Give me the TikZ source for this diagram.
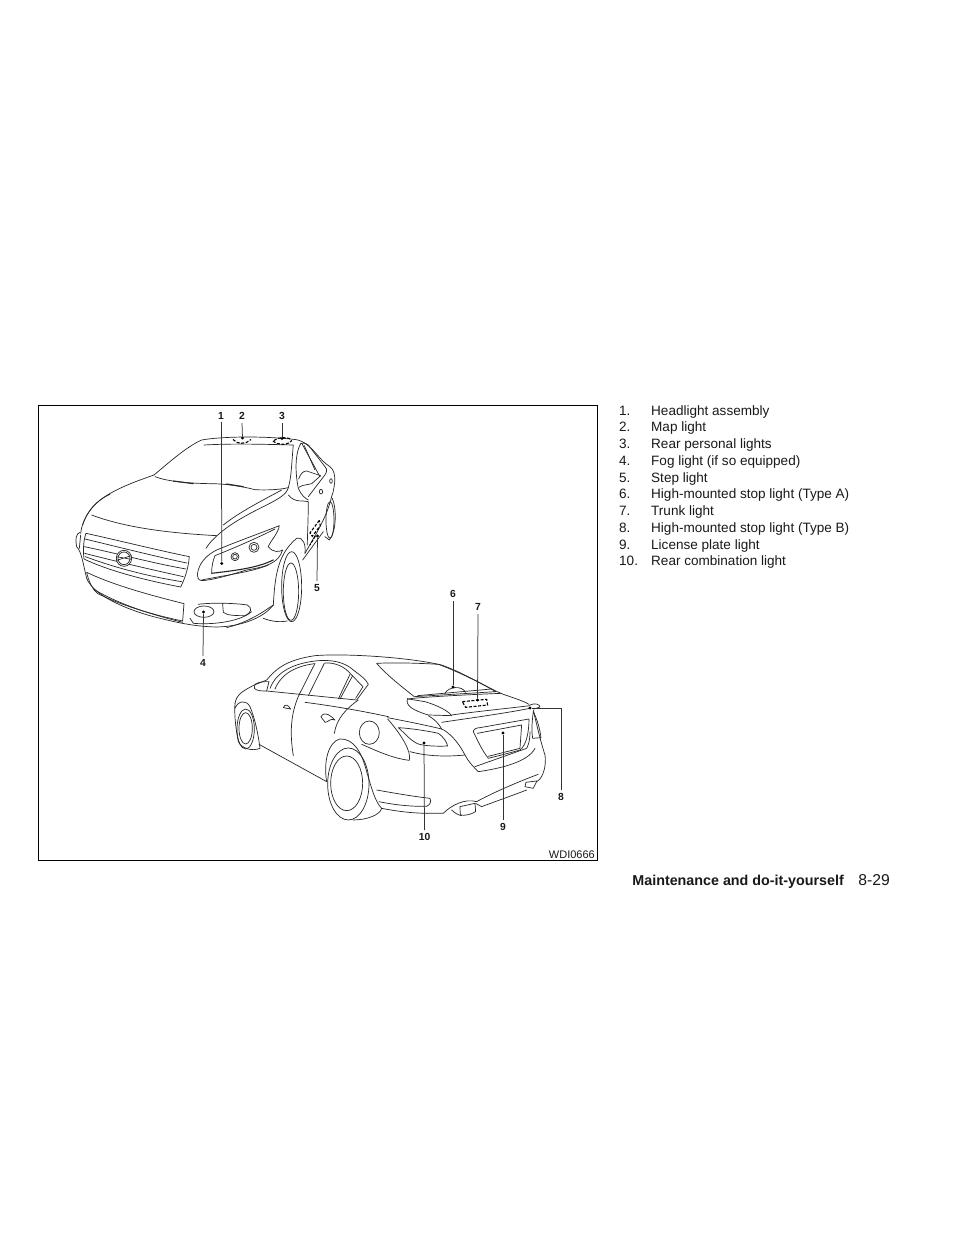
\documentclass[tikz,border=0pt]{standalone}
\usepackage{fontspec}
\setmainfont{Liberation Sans}
\tikzset{
 car/.style={draw=black!85,line width=0.7pt,line cap=round,line join=round},
 dashbox/.style={draw=black,line width=1.1pt,dash pattern=on 3pt off 1.6pt},
 leader/.style={draw=black!80,line width=0.75pt},
 callout/.style={font=\fontsize{10.3}{12}\selectfont\bfseries,inner sep=0pt,text=black!90},
 tip/.style={circle,fill=black,inner sep=0pt,minimum size=3.2pt},
 item/.style={font=\fontsize{13.55}{15}\selectfont,inner sep=0pt,anchor=base west,text=black!90},
 frontcar/.style={shift={(60,405)},x=0.3333pt,y=-0.3333pt},
 rearcar/.style={shift={(225,585)},x=0.3333pt,y=-0.3333pt}
}
\begin{document}
\begin{tikzpicture}[x=1pt,y=-1pt]
\useasboundingbox (0,0) rectangle (954,1235);
\fill[white] (0,0) rectangle (954,1235);
\draw[black,line width=0.9pt] (38,405.5) rectangle (597.5,860.5);

% ---------- front car
\begin{scope}[frontcar]
% roof + rear outline
\draw[car] (282,210) .. controls (330,170) and (380,125) .. (425,105) .. controls (480,95) and (600,92) .. (700,103) .. controls (750,105) and (775,165) .. (810,185) .. controls (822,195) and (826,210) .. (824,232) .. controls (822,250) and (820,262) .. (815,275);
\draw[car] (432,120) .. controls (520,115) and (620,118) .. (700,120) .. controls (695,170) and (695,215) .. (685,248);
% windshield base
\draw[car] (285,215) .. controls (330,232) and (400,235) .. (450,236) .. controls (500,236) and (550,245) .. (585,254) .. controls (620,256) and (660,254) .. (685,248);
\draw[car,line width=1.1pt] (340,228) -- (400,236) (500,237) -- (550,245);
% side window
\draw[car] (722,116) .. controls (708,140) and (703,190) .. (715,250) .. controls (722,268) and (735,280) .. (745,285);
\draw[car] (745,275) -- (787,220) .. controls (800,205) and (805,195) .. (795,185) -- (745,120) .. controls (738,113) and (730,112) .. (722,116);
\draw[car] (727,118) -- (780,215);
\draw[car] (733,122) -- (765,195);
% mirror
\draw[car] (716,222) .. controls (722,205) and (730,198) .. (740,198) -- (782,212) -- (755,236) .. controls (740,240) and (725,240) .. (717,247);
% hood edges
\draw[car] (282,210) .. controls (210,235) and (130,265) .. (95,310) .. controls (75,335) and (65,360) .. (62,385);
\draw[car] (150,268) .. controls (110,285) and (80,320) .. (68,360);
\draw[car] (95,330) .. controls (200,370) and (340,385) .. (470,392);
\draw[car] (685,248) .. controls (680,270) and (650,285) .. (600,310) .. controls (540,340) and (470,380) .. (438,430);
\draw[car] (665,255) .. controls (610,285) and (540,320) .. (490,360);
% door / fender
\draw[car] (685,270) .. controls (705,295) and (730,285) .. (745,290) .. controls (745,340) and (742,400) .. (742,420);
\draw[car] (735,445) .. controls (760,400) and (800,340) .. (815,275);
\draw[car] (728,465) -- (790,380);
\draw[car] (783,260) ellipse [x radius=5,y radius=7];
\draw[car] (813,228) ellipse [x radius=4,y radius=7];
% rear wheel on far side
\draw[car] (810,345) ellipse [x radius=12,y radius=55];
\draw[car] (817,280) .. controls (830,310) and (830,380) .. (808,405) -- (795,395);
% step light marks
\draw[dashbox] (778,346) -- (750,384) -- (757,394) -- (781,362) -- cycle;
\draw[dashbox] (766,393) -- (750,420);
% bumper outline
\draw[car] (60,382) .. controls (48,385) and (45,405) .. (50,425) .. controls (65,440) and (70,480) .. (80,520) .. controls (100,570) and (190,610) .. (280,635) .. controls (340,650) and (400,665) .. (470,666) .. controls (540,665) and (610,640) .. (640,600);
\draw[car] (62,390) -- (58,430);
% grille
\draw[car] (78,385) .. controls (170,405) and (290,435) .. (388,455) .. controls (385,490) and (375,520) .. (362,546) .. controls (250,525) and (140,495) .. (72,462) .. controls (68,430) and (72,400) .. (78,385) -- cycle;
\draw[car] (75,402) .. controls (170,425) and (290,455) .. (380,474);
\draw[car] (73,425) .. controls (170,445) and (280,475) .. (378,492);
\draw[car] (74,445) .. controls (170,470) and (280,495) .. (370,515);
\draw[car] (76,455) .. controls (170,490) and (270,515) .. (365,530);
\draw[car,fill=white] (192,460) ellipse [x radius=23,y radius=24];
\draw[car] (192,460) ellipse [x radius=18,y radius=19];
\draw[car] (170,455) -- (214,463) (170,466) -- (214,452);
% lower grille
\draw[car] (80,502) .. controls (170,545) and (290,575) .. (372,596) -- (368,648) .. controls (280,630) and (180,600) .. (112,565) .. controls (95,550) and (85,525) .. (80,502) -- cycle;
\draw[car] (100,552) .. controls (180,600) and (280,630) .. (368,652);
% headlight
\draw[car] (412,510) .. controls (415,475) and (440,450) .. (470,435) .. controls (530,410) and (600,385) .. (658,362) .. controls (655,385) and (630,410) .. (625,425) .. controls (640,445) and (660,440) .. (668,435) .. controls (655,475) and (620,485) .. (560,495) .. controls (510,510) and (460,525) .. (425,527) .. controls (415,525) and (412,518) .. (412,510) -- cycle;
\draw[car] (455,505) .. controls (455,480) and (460,465) .. (465,452) .. controls (520,430) and (590,400) .. (645,372);
\draw[car,line width=1.1pt] (455,505) .. controls (520,497) and (590,490) .. (640,465);
\draw[car] (425,525) .. controls (500,510) and (580,500) .. (625,480);
\draw[car] (525,455) circle [radius=12];
\draw[car] (525,455) circle [radius=7];
\draw[car] (582,427) circle [radius=15];
\draw[car] (582,427) circle [radius=9];
% fog lamp + housing
\draw[car] (432,620) ellipse [x radius=30,y radius=17];
\draw[car] (415,598) .. controls (460,592) and (530,595) .. (562,600) .. controls (578,610) and (575,622) .. (555,632) .. controls (530,632) and (500,632) .. (490,622) -- (488,597);
\draw[car] (390,640) -- (400,655) .. controls (460,660) and (540,650) .. (575,620);
% front wheel
\draw[car] (640,600) .. controls (645,520) and (650,450) .. (710,400) .. controls (730,395) and (738,420) .. (735,445);
\draw[car] (693,560) ellipse [x radius=23,y radius=86];
\draw[car] (695,545) ellipse [x radius=30,y radius=105];
\draw[car] (610,640) .. controls (635,650) and (660,652) .. (682,648);
\draw[car] (640,600) .. controls (610,620) and (570,650) .. (500,668);
\end{scope}

% ---------- rear car
\begin{scope}[rearcar]
% roof line
\draw[car] (30,355) .. controls (35,325) and (60,315) .. (88,300) -- (125,285) .. controls (150,255) and (180,225) .. (270,212) .. controls (350,205) and (540,215) .. (650,240) .. controls (720,265) and (790,310) .. (835,328) .. controls (870,340) and (895,348) .. (912,358);
% windows
\draw[car] (135,310) .. controls (150,270) and (190,238) .. (270,228) .. controls (320,222) and (360,232) .. (385,255) .. controls (405,270) and (425,285) .. (430,298) -- (395,345) -- (125,318);
\draw[car] (150,312) .. controls (165,275) and (200,245) .. (268,236);
\draw[car] (300,234) .. controls (330,232) and (360,245) .. (378,268) -- (414,305) -- (392,340);
\draw[car] (270,235) -- (222,330) (298,235) -- (250,332) (383,272) -- (345,342) (375,268) -- (340,342);
% mirror
\draw[car] (90,298) .. controls (105,288) and (125,290) .. (132,290) -- (125,318) .. controls (110,318) and (95,318) .. (88,310) -- cycle;
% door lines
\draw[car] (222,330) .. controls (195,390) and (195,450) .. (205,512);
\draw[car] (400,345) .. controls (365,370) and (335,400) .. (328,445);
\draw[car] (240,352) .. controls (340,365) and (420,380) .. (490,395);
% handles
\draw[car] (175,368) .. controls (180,355) and (190,360) .. (197,372) -- (175,368) -- cycle;
\draw[car] (288,395) .. controls (300,375) and (320,395) .. (330,405) .. controls (315,398) and (310,412) .. (300,412) .. controls (295,402) and (290,402) .. (288,395) -- cycle;
% front wheel & arch
\draw[car] (30,355) .. controls (28,380) and (30,420) .. (40,470) .. controls (50,490) and (80,500) .. (105,490) .. controls (100,450) and (90,400) .. (75,365) .. controls (65,345) and (40,345) .. (30,370);
\draw[car] (62,430) ellipse [x radius=20,y radius=47];
\draw[car] (62,432) ellipse [x radius=26,y radius=60];
% sill
\draw[car] (102,478) -- (305,590);
% rear wheel
\draw[car] (365,595) ellipse [x radius=48,y radius=82];
\draw[car] (370,597) ellipse [x radius=62,y radius=108];
\draw[car] (305,590) .. controls (295,530) and (310,470) .. (345,462) .. controls (385,460) and (410,500) .. (425,560) .. controls (440,610) and (450,650) .. (470,670) .. controls (465,690) and (425,705) .. (385,705);
% fuel door
\draw[car] (433,443) ellipse [x radius=30,y radius=35];
% quarter panel
\draw[car] (410,478) .. controls (450,495) and (500,520) .. (553,526) .. controls (560,500) and (530,450) .. (488,402);
% tail light
\draw[car] (488,398) .. controls (540,408) and (600,420) .. (650,432) .. controls (670,440) and (700,470) .. (720,510) .. controls (730,530) and (745,545) .. (760,560);
\draw[car] (520,428) .. controls (560,430) and (620,440) .. (640,445) .. controls (655,455) and (665,470) .. (668,483) .. controls (630,485) and (590,482) .. (575,475) .. controls (555,465) and (540,445) .. (520,428) -- cycle;
\draw[car] (555,500) .. controls (610,515) and (670,515) .. (720,510);
% rear window
\draw[car] (455,235) .. controls (520,232) and (590,235) .. (640,238) .. controls (700,260) and (770,295) .. (812,320) -- (568,335) .. controls (530,305) and (485,270) .. (455,235) -- cycle;
\draw[car] (578,332) -- (800,312);
% stop light 6
\draw[car] (660,325) .. controls (670,305) and (710,300) .. (722,322);
% trunk lid
\draw[car] (550,342) .. controls (570,338) and (700,330) .. (830,325);
\draw[car] (548,340) .. controls (540,360) and (560,375) .. (610,390) -- (680,392) .. controls (670,378) and (640,362) .. (600,350) -- (550,342);
\draw[car] (610,392) .. controls (640,410) and (645,425) .. (650,432);
\draw[car] (680,390) .. controls (750,380) and (850,370) .. (915,362);
\draw[car] (650,412) .. controls (730,400) and (840,385) .. (915,370);
\draw[car] (915,360) .. controls (930,353) and (945,358) .. (945,366) -- (928,372);
% dashed box 7
\draw[dashbox] (712,350) -- (785,343) -- (788,360) -- (722,367) -- cycle;
% plate recess
\draw[car] (745,440) .. controls (745,430) and (760,428) .. (765,428) -- (912,402) .. controls (912,440) and (905,480) .. (885,495) .. controls (850,505) and (810,515) .. (790,520) .. controls (770,495) and (755,460) .. (745,440) -- cycle;
\draw[car] (757,445) -- (890,420) -- (885,490) -- (790,514);
% bumper right side
\draw[car] (925,375) .. controls (935,420) and (950,480) .. (960,510) .. controls (965,540) and (955,580) .. (935,590);
\draw[car] (925,380) .. controls (920,420) and (920,440) .. (923,460) -- (948,458) .. controls (945,430) and (935,400) .. (925,380);
\draw[car] (915,440) .. controls (915,470) and (910,480) .. (905,490) -- (750,545);
\draw[car] (760,560) .. controls (830,550) and (910,530) .. (930,490);
% diffuser & exhaust
\draw[car] (940,568) .. controls (880,590) and (800,625) .. (755,650) .. controls (720,640) and (680,660) .. (655,685) -- (608,685);
\draw[car] (935,590) -- (925,610) -- (900,605) -- (903,592) -- (935,588) -- cycle;
\draw[car] (905,615) .. controls (880,625) and (810,650) .. (770,665) -- (752,655);
\draw[car] (705,665) -- (750,655) -- (752,680) .. controls (735,690) and (720,692) .. (706,690) -- cycle;
\draw[car] (680,675) .. controls (690,685) and (700,690) .. (710,692);
% lower reflector
\draw[car] (455,615) .. controls (510,625) and (570,635) .. (615,640) .. controls (620,650) and (615,660) .. (605,664) .. controls (560,665) and (510,660) .. (462,650);
\draw[car] (470,670) .. controls (520,680) and (570,685) .. (608,685);
\end{scope}

% leader targets (tips) on the cars
\node[tip] (t1) at (221.7,563.5) {};
\node[tip] (t2) at (242.5,438) {};
\node[tip] (t3) at (282,438.5) {};
\node[tip] (t4) at (203.5,612) {};
\node[tip] (t5) at (317.5,536) {};
\node[tip] (t6) at (453,687) {};
\node[tip] (t7) at (477.5,700) {};
\node[tip] (t8) at (530,708) {};
\node[tip] (t9) at (503,733) {};
\node[tip] (t10) at (424,743) {};

% dashed lamps
\draw[dashbox] (233,439.5) .. controls (237,444.5) and (246,444.5) .. (251,439.5);
\draw[dashbox] (273,441) .. controls (278,445.5) and (288,445.5) .. (292,440.5);
\draw[dashbox] (274,440.5) .. controls (277,437) and (287,437) .. (291,439);

% callouts
\node[callout] (n1) at (221,416) {1};
\node[callout] (n2) at (242,416) {2};
\node[callout] (n3) at (282,416) {3};
\node[callout] (n4) at (203,663) {4};
\node[callout] (n5) at (317,588) {5};
\node[callout] (n6) at (453,594) {6};
\node[callout] (n7) at (478,607) {7};
\node[callout] (n8) at (561,796.5) {8};
\node[callout] (n9) at (503,827) {9};
\node[callout] (n10) at (424.5,837) {10};

\draw[leader] (n1.south) ++(0.5,2) coordinate (l1) -- (t1);
\draw[leader] (n2) ++(0,7) coordinate (l2) -- (t2);
\draw[leader] (n3) ++(0,7) coordinate (l3) -- (t3);
\draw[leader] (n4) ++(0,-7) coordinate (l4) -- (t4);
\draw[leader] (n5) ++(0,-7) coordinate (l5) -- (t5);
\draw[leader] (n6) ++(0,7) coordinate (l6) -- (t6);
\draw[leader] (n7) ++(0,7) coordinate (l7) -- (t7);
\draw[leader] (n8) ++(0,-7) coordinate (l8) |- (t8);
\draw[leader] (n9) ++(0,-7) coordinate (l9) -- (t9);
\draw[leader] (n10) ++(0,-7) coordinate (l10) -- (t10);

\node[inner sep=0pt,anchor=base east,font=\fontsize{11}{12}\selectfont,text=black!90] (code) at (595,858) {WDI0666};

% list
\foreach \k/\num/\txt/\yy in {a/1./Headlight assembly/415,b/2./Map light/431,c/3./Rear personal lights/448,d/4./Fog light (if so equipped)/465,e/5./Step light/482,f/6./High-mounted stop light (Type A)/498,g/7./Trunk light/515,h/8./High-mounted stop light (Type B)/532,i/9./License plate light/549,j/10./Rear combination light/565}{
 \node[item] (num\k) at (619,\yy) {\num};
 \node[item] (txt\k) at (651,\yy) {\txt};
}
% footer
\node[inner sep=0pt,anchor=base east,font=\fontsize{14.3}{15}\selectfont\bfseries,text=black!90] (foot) at (844,885) {Maintenance and do-it-yourself};
\node[inner sep=0pt,anchor=base east,font=\fontsize{15.7}{17}\selectfont,text=black!90] (page) at (890,885) {8-29};
\end{tikzpicture}
\end{document}
